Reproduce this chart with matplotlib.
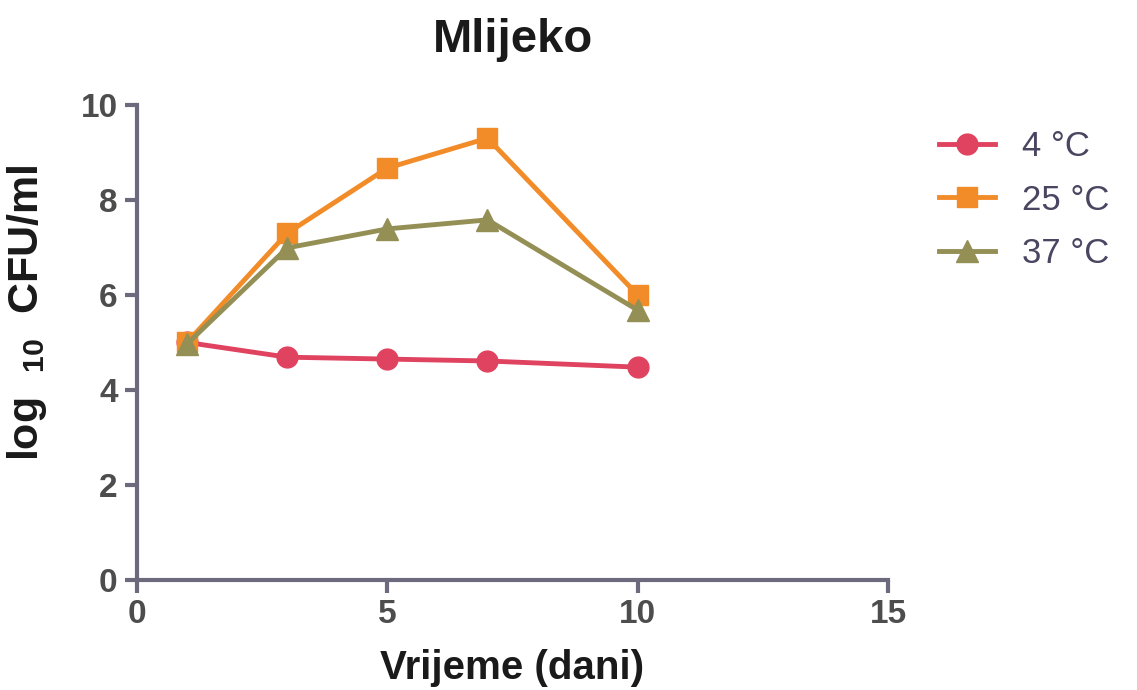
import matplotlib
matplotlib.use("Agg")
import matplotlib.pyplot as plt

plt.rcParams['font.family'] = ['Liberation Sans', 'DejaVu Sans']
plt.rcParams['mathtext.fontset'] = 'custom'
plt.rcParams['mathtext.rm'] = 'Liberation Sans'
plt.rcParams['mathtext.bf'] = 'Liberation Sans:bold'

days = [1, 3, 5, 7, 10]
t4 = [5.0, 4.69, 4.65, 4.61, 4.48]
t25 = [5.0, 7.3, 8.67, 9.3, 6.0]
t37 = [4.97, 6.99, 7.39, 7.58, 5.68]
labels = ['4 °C', '25 °C', '37 °C']
xticks = [0, 5, 10, 15]
yticks = [0, 2, 4, 6, 8, 10]

fig = plt.figure(figsize=(11.37, 6.9), dpi=100)
ax = fig.add_axes([0.1205, 0.1594, 0.6605, 0.6886])

axis_col = '#6e6a7e'
tick_col = '#4d4d4d'

ax.plot(days, t4, color='#e0435f', marker='o', markersize=15, lw=3.5, label=labels[0], clip_on=False, zorder=3)
ax.plot(days, t25, color='#f28c28', marker='s', markersize=15, lw=3.5, label=labels[1], clip_on=False, zorder=3)
ax.plot(days, t37, color='#948f55', marker='^', markersize=16, lw=3.5, label=labels[2], clip_on=False, zorder=4)

ax.set_xlim(0, 15)
ax.set_ylim(0, 10)
ax.set_xticks(xticks)
ax.set_yticks(yticks)
for s in ['top', 'right']:
    ax.spines[s].set_visible(False)
for s in ['left', 'bottom']:
    ax.spines[s].set_color(axis_col)
    ax.spines[s].set_linewidth(3)
ax.tick_params(axis='both', direction='out', length=9, width=3, color=axis_col,
               labelsize=24, labelcolor=tick_col, pad=5)
for lab in ax.get_xticklabels() + ax.get_yticklabels():
    lab.set_fontweight('bold')

ax.set_xlabel('Vrijeme (dani)', fontsize=29, fontweight='bold', labelpad=13, color='#1a1a1a')
ax.set_ylabel('log  $_{\\mathregular{10}}$  CFU/ml', fontsize=31, fontweight='bold', color='#1a1a1a')
ax.yaxis.set_label_coords(-0.117, 0.562)
ax.set_title('Mlijeko', fontsize=34, fontweight='bold', pad=38, color='#1a1a1a')

leg = ax.legend(loc='upper left', bbox_to_anchor=(1.05, 0.977), frameon=False,
                fontsize=25, handlelength=1.6, handletextpad=0.78, labelspacing=0.6,
                borderaxespad=0.0)
for t in leg.get_texts():
    t.set_color('#4a4560')

fig.savefig('out.png', dpi=100)
